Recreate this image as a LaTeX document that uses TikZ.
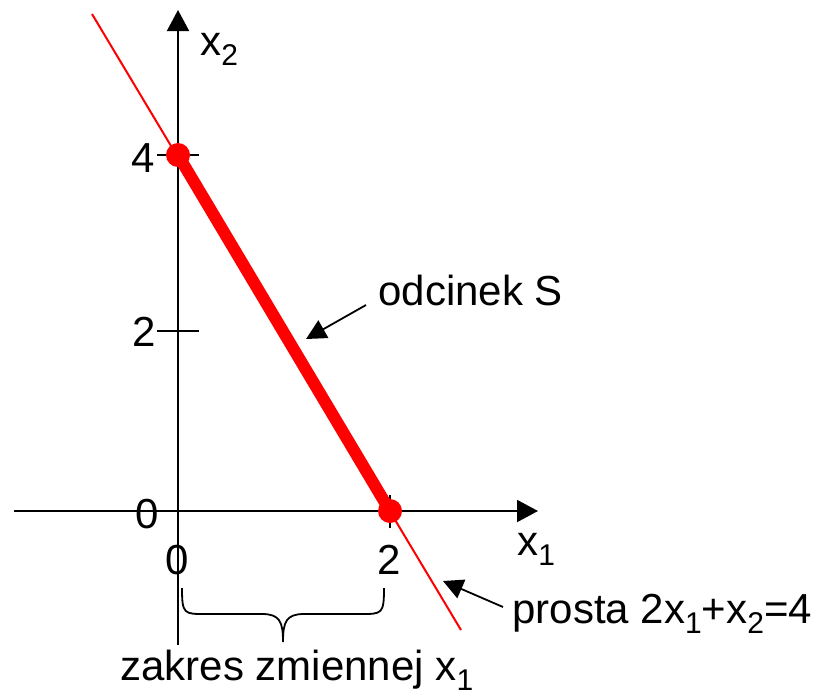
\documentclass[tikz,border=0pt]{standalone}
\usepackage{fontspec}
\setmainfont{Liberation Sans}
\usepackage{tikz}
\usetikzlibrary{arrows.meta, positioning}
\definecolor{linered}{RGB}{255,0,0}

\newcommand{\idx}[1]{\raisebox{-5pt}{\fontsize{15}{15}\selectfont #1}}

\begin{document}
\begin{tikzpicture}[
  x=0.5pt, y=-0.5pt,
  axis/.style={line width=1pt, -{Triangle[length=10.5pt, width=11pt]}},
  tick/.style={line width=0.8pt},
  lbl/.style={font=\fontsize{21}{25}\selectfont, inner sep=0pt},
  pointer/.style={line width=0.9pt, -{Triangle[length=10pt, width=10pt]}},
  dot/.style={circle, fill=linered, minimum size=12pt, inner sep=0pt},
]
\useasboundingbox (0,0) rectangle (817,697);

% axes
\coordinate (O)     at (178,511);
\coordinate (xbeg)  at (14,511);
\coordinate (xend)  at (538,511);
\coordinate (ybeg)  at (178,645);
\coordinate (yend)  at (178,10);
\draw[axis] (xbeg) -- (xend);
\draw[axis] (ybeg) -- (yend);

\draw[tick] (157,155) -- (199,155);
\draw[tick] (157,331) -- (199,331);
\draw[tick] (390,495) -- (390,528);

% line and segment
\coordinate (ltop) at (92,14);
\coordinate (lbot) at (461,630);
\draw[linered, line width=1pt] (ltop) -- (lbot);

\node[dot] (pA) at (178,155) {};
\node[dot] (pB) at (390,511) {};
\draw[linered, line width=6pt] (pA.center) -- (pB.center);

% tick labels
\node[lbl, anchor=base] (y4) at (143,172) {4};
\node[lbl, anchor=base] (y2) at (144,346) {2};
\node[lbl, anchor=base] (y0) at (147,528) {0};
\node[lbl, anchor=base] (x0) at (177,574) {0};
\node[lbl, anchor=base] (x2) at (389,574) {2};

\node[lbl, anchor=base west] (x2lbl) at (200,55)  {x\idx{2}};
\node[lbl, anchor=base west] (x1lbl) at (517,555) {x\idx{1}};

% labels with pointers
\node[lbl, anchor=base west] (sLbl) at (378,305) {odcinek S};
\node[lbl, anchor=base west] (pLbl) at (512,623) {prosta 2x\idx{1}+x\idx{2}=4};
\coordinate (sTip) at (306,339);
\coordinate (pTip) at (443,581);
\draw[pointer] ([shift={(-12,0)}]sLbl.base west) -- (sTip);
\draw[pointer] ([shift={(-9,-16)}]pLbl.base west) -- (pTip);

% range brace
\draw[line width=0.9pt] (182,588) .. controls (182,614) and (184,614) .. (205,614)
  -- (262,614) .. controls (280,614) and (283,622) .. (283,642)
  .. controls (283,622) and (286,614) .. (304,614)
  -- (361,614) .. controls (382,614) and (384,614) .. (384,588);
\node[lbl, anchor=base west] (zLbl) at (120,680) {zakres zmiennej x\idx{1}};

\end{tikzpicture}
\end{document}
